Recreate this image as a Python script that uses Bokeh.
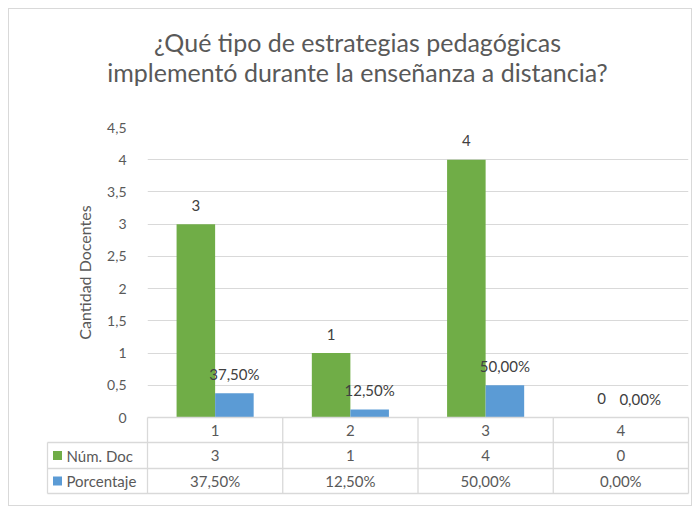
from bokeh.plotting import figure
from bokeh.models import ColumnDataSource, FixedTicker, CustomJSTickFormatter
from bokeh.transform import dodge
from bokeh.core.properties import value
from bokeh.embed import file_html
from bokeh.resources import INLINE

# ---- data ----
title_lines = ["¿Qué tipo de estrategias pedagógicas",
               "implementó durante la enseñanza a distancia?"]
categories = [1, 2, 3, 4]
num_doc = [3, 1, 4, 0]
porcentaje = [0.375, 0.125, 0.5, 0.0]
series_names = ["Núm. Doc", "Porcentaje"]
series_colors = ["#70AD47", "#5B9BD5"]
y_ticks = [0, 0.5, 1, 1.5, 2, 2.5, 3, 3.5, 4, 4.5]
y_label = "Cantidad Docentes"

num_labels = [str(v) for v in num_doc]
pct_labels = [f"{v * 100:.2f}%".replace(".", ",") for v in porcentaje]
cat_labels = [str(c) for c in categories]

# ---- layout constants ----
FONT = "Lato"
TXT = "#595959"
GRID = "#d9d9d9"
W, H = 684, 498
TOP, LEFT_B, RIGHT_B, FRAME_H = 118, 138, 5, 290
PX_X = (W - LEFT_B - RIGHT_B) / 4.0      # px per x unit
PX_Y = FRAME_H / 4.5                     # px per y unit
BAR_W = 0.285
OFF = BAR_W / 2

p = figure(width=W, height=H, x_range=(0.5, 4.5), y_range=(0, 4.5),
           output_backend="svg", toolbar_location=None,
           min_border_left=LEFT_B, min_border_right=RIGHT_B,
           min_border_top=TOP, min_border_bottom=H - TOP - FRAME_H)
p.styles = {"border": "1px solid #d9d9d9", "margin-left": "8px", "margin-top": "8px"}
p.outline_line_color = None
p.xaxis.visible = False
p.xgrid.visible = False
p.ygrid.grid_line_color = GRID
p.ygrid.grid_line_width = 1

ax = p.yaxis[0]
ax.ticker = FixedTicker(ticks=y_ticks)
ax.formatter = CustomJSTickFormatter(code="return tick.toString().replace('.', ',')")
ax.axis_line_color = None
ax.major_tick_line_color = None
ax.minor_tick_line_color = None
ax.major_label_standoff = 15
ax.major_label_text_font = FONT
ax.major_label_text_font_size = "14px"
ax.major_label_text_color = TXT
ax.axis_label = y_label
ax.axis_label_standoff = 10
ax.axis_label_text_font = FONT
ax.axis_label_text_font_size = "16px"
ax.axis_label_text_font_style = "normal"
ax.axis_label_text_color = TXT

src = ColumnDataSource(dict(cat=categories, num=num_doc, pct=porcentaje,
                            num_lbl=num_labels, pct_lbl=pct_labels))

p.vbar(x=dodge("cat", -OFF), top="num", width=BAR_W, source=src,
       fill_color=series_colors[0], line_color=None)
p.vbar(x=dodge("cat", OFF), top="pct", width=BAR_W, source=src,
       fill_color=series_colors[1], line_color=None)

lbl_kw = dict(text_font=value(FONT), text_font_size="15px", text_color="#404040",
              text_align="center", text_baseline="middle", y_offset=-19, source=src)
p.text(x=dodge("cat", -OFF), y="num", text="num_lbl", **lbl_kw)
p.text(x=dodge("cat", OFF), y="pct", text="pct_lbl", **lbl_kw)

# ---- title (drawn above the frame) ----
tx = 0.5 + (348 - 138) / PX_X
title_src = ColumnDataSource(dict(x=[tx, tx],
                                  y=[(408 - 32) / PX_Y, (408 - 62) / PX_Y],
                                  t=title_lines))
p.text(x="x", y="y", text="t", source=title_src, text_align="center",
       text_baseline="alphabetic", text_font=value(FONT), text_font_size="25px",
       text_color=TXT, level="overlay")

# ---- data table under the plot ----
LEFT = 0.5 - 100 / PX_X
rows = [0, -25 / PX_Y, -51 / PX_Y, -76 / PX_Y]
bounds = [c - 0.5 for c in categories] + [categories[-1] + 0.5]
x0s, y0s, x1s, y1s = [], [], [], []
x0s.append(bounds[0]); x1s.append(bounds[-1]); y0s.append(rows[0]); y1s.append(rows[0])
for r in rows[1:]:
    x0s.append(LEFT); x1s.append(bounds[-1]); y0s.append(r); y1s.append(r)
for b in bounds:
    x0s.append(b); x1s.append(b); y0s.append(rows[0]); y1s.append(rows[-1])
x0s.append(LEFT); x1s.append(LEFT); y0s.append(rows[1]); y1s.append(rows[-1])
p.segment(x0=x0s, y0=y0s, x1=x1s, y1=y1s, line_color=GRID, line_width=1.3,
          level="overlay")

mids = [(rows[i] + rows[i + 1]) / 2 for i in range(3)]
tbl_kw = dict(text_font=value(FONT), text_font_size="15px", text_color=TXT,
              text_baseline="middle", level="overlay")
p.text(x=categories, y=[mids[0]] * 4, text=cat_labels, text_align="center", **tbl_kw)
p.text(x=categories, y=[mids[1]] * 4, text=num_labels, text_align="center", **tbl_kw)
p.text(x=categories, y=[mids[2]] * 4, text=pct_labels, text_align="center", **tbl_kw)
leg_src = ColumnDataSource(dict(x=[LEFT + 10 / PX_X] * 2, y=mids[1:],
                                c=series_colors, t=series_names,
                                tx=[LEFT + 19 / PX_X] * 2))
p.rect(x="x", y="y", width=9, height=9, width_units="screen", height_units="screen",
       fill_color="c", line_color=None, source=leg_src, level="overlay")
p.text(x="tx", y="y", text="t", text_align="left", source=leg_src, **tbl_kw)

open("out.html", "w").write(file_html(p, INLINE))
